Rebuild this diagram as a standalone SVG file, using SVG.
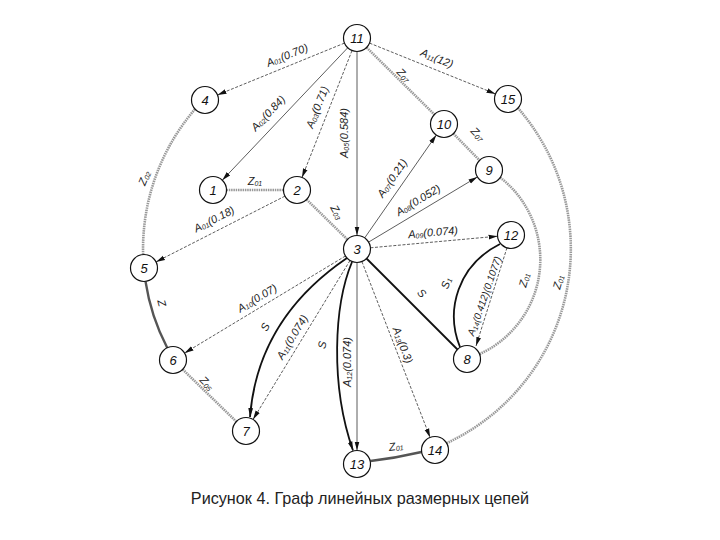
<svg xmlns="http://www.w3.org/2000/svg" width="720" height="540" viewBox="0 0 720 540">
<style>
.nd{fill:#fff;stroke:#111;stroke-width:1.2}
.nt{font-family:"Liberation Sans",Arial,sans-serif;font-style:italic;font-size:13px;fill:#111;text-anchor:middle;dominant-baseline:central}
.lb{font-family:"Liberation Sans",Arial,sans-serif;font-style:italic;font-size:11px;fill:#222;text-anchor:middle;dominant-baseline:central}
.sb{font-size:7px}
.a{fill:none;stroke:#333;stroke-width:0.8}
.ad{fill:none;stroke:#333;stroke-width:0.8;stroke-dasharray:3 1.6}
.z{fill:none;stroke:#999;stroke-width:2.6;stroke-dasharray:1.5 0.8}
.zd{fill:none;stroke:#555;stroke-width:2.4}
.s{fill:none;stroke:#111;stroke-width:1.8}
.cap{font-family:"Liberation Sans",Arial,sans-serif;font-size:16.2px;fill:#222;text-anchor:middle}
</style>
<defs>
<marker id="ar" markerWidth="10" markerHeight="6" refX="9" refY="3" orient="auto" markerUnits="userSpaceOnUse">
<path d="M0,0.6 L9,3 L0,5.4 Z" fill="#111"/>
</marker>
</defs>
<rect width="720" height="540" fill="#fff"/>
<g id="connectors">
<line class="ad" x1="344.5" y1="43.1" x2="217.5" y2="94.9" marker-end="url(#ar)"/>
<line class="a" x1="347.7" y1="47.8" x2="222.3" y2="180.2" marker-end="url(#ar)"/>
<line class="ad" x1="352" y1="50.6" x2="302" y2="177.4" marker-end="url(#ar)"/>
<line class="a" x1="357" y1="51.5" x2="357" y2="235.5" marker-end="url(#ar)"/>
<line class="ad" x1="369.5" y1="43.1" x2="495.5" y2="93.9" marker-end="url(#ar)"/>
<line class="z" x1="366.6" y1="47.5" x2="434.4" y2="114.5"/>
<line class="z" x1="453.4" y1="133.6" x2="479.6" y2="160.4"/>
<line class="a" x1="364.7" y1="237.9" x2="436.3" y2="135.1" marker-end="url(#ar)"/>
<line class="a" x1="368.6" y1="242.1" x2="477.4" y2="176.9" marker-end="url(#ar)"/>
<line class="ad" x1="370.4" y1="247.8" x2="497.6" y2="236.2" marker-end="url(#ar)"/>
<line class="z" x1="226.5" y1="190" x2="283.5" y2="190"/>
<line class="ad" x1="285" y1="196.1" x2="156" y2="261.9" marker-end="url(#ar)"/>
<line class="z" x1="306.6" y1="199.5" x2="347.4" y2="239.5"/>
<path class="z" d="M195,109.2 A214,214 0 0 0 143.1,254.6"/>
<path class="zd" d="M145.5,281.4 A214,214 0 0 0 167.2,347.8"/>
<line class="z" x1="182.7" y1="369.4" x2="236.3" y2="421.6"/>
<path class="z" d="M517.9,108 A214,214 0 0 1 446.7,443.1"/>
<path class="z" d="M500.2,177.5 A104,104 0 0 1 479.6,354.1"/>
<path class="zd" d="M370.5,461 Q396,458 421.5,452"/>
<line class="ad" x1="345.4" y1="256" x2="184.6" y2="353" marker-end="url(#ar)"/>
<path class="s" d="M347,258 C300,290 256,340 250,417" marker-end="url(#ar)"/>
<line class="ad" x1="350" y1="260.5" x2="253" y2="419.5" marker-end="url(#ar)"/>
<path class="s" d="M352,262 C334,305 330,385 353,450.5" marker-end="url(#ar)"/>
<line class="a" x1="357" y1="262.5" x2="357" y2="450.5" marker-end="url(#ar)"/>
<line class="ad" x1="361.9" y1="261.6" x2="430.1" y2="437.4" marker-end="url(#ar)"/>
<line class="s" x1="366.5" y1="258.5" x2="457.5" y2="349.5"/>
<path class="s" d="M460,347 C445,310 458,265 500,244"/>
<line class="ad" x1="507" y1="247.7" x2="476" y2="346" marker-end="url(#ar)"/>
</g>
<g id="labels">
<text class="lb" transform="translate(287,55) rotate(-22)">A<tspan class="sb" dy="2">01</tspan><tspan dy="-2">(0.70)</tspan></text>
<text class="lb" transform="translate(268,113) rotate(-46.5)">A<tspan class="sb" dy="2">02</tspan><tspan dy="-2">(0.84)</tspan></text>
<text class="lb" transform="translate(317,107) rotate(-68.5)">A<tspan class="sb" dy="2">03</tspan><tspan dy="-2">(0.71)</tspan></text>
<text class="lb" transform="translate(344,133) rotate(-90)">A<tspan class="sb" dy="2">05</tspan><tspan dy="-2">(0.584)</tspan></text>
<text class="lb" transform="translate(437,58) rotate(22)">A<tspan class="sb" dy="2">11</tspan><tspan dy="-2">(12)</tspan></text>
<text class="lb" transform="translate(404,75) rotate(45)">Z<tspan class="sb" dy="2">07</tspan></text>
<text class="lb" transform="translate(478,134) rotate(45)">Z<tspan class="sb" dy="2">07</tspan></text>
<text class="lb" transform="translate(392,178) rotate(-55)">A<tspan class="sb" dy="2">07</tspan><tspan dy="-2">(0.21)</tspan></text>
<text class="lb" transform="translate(418,200) rotate(-31)">A<tspan class="sb" dy="2">08</tspan><tspan dy="-2">(0.052)</tspan></text>
<text class="lb" transform="translate(433,232) rotate(-5)">A<tspan class="sb" dy="2">09</tspan><tspan dy="-2">(0.074)</tspan></text>
<text class="lb" transform="translate(255,181)">Z<tspan class="sb" dy="2">01</tspan></text>
<text class="lb" transform="translate(214,219) rotate(-27)">A<tspan class="sb" dy="2">01</tspan><tspan dy="-2">(0.18)</tspan></text>
<text class="lb" transform="translate(337,212) rotate(60)">Z<tspan class="sb" dy="2">03</tspan></text>
<text class="lb" transform="translate(144,178) rotate(-68)">Z<tspan class="sb" dy="2">02</tspan></text>
<text class="lb" transform="translate(162,303) rotate(75)">Z</text>
<text class="lb" transform="translate(207,383) rotate(45)">Z<tspan class="sb" dy="2">05</tspan></text>
<text class="lb" transform="translate(257,298) rotate(-31)">A<tspan class="sb" dy="2">10</tspan><tspan dy="-2">(0.07)</tspan></text>
<text class="lb" transform="translate(265,327) rotate(-62)">S</text>
<text class="lb" transform="translate(292,337) rotate(-58.6)">A<tspan class="sb" dy="2">11</tspan><tspan dy="-2">(0.074)</tspan></text>
<text class="lb" transform="translate(322,345) rotate(-80)">S</text>
<text class="lb" transform="translate(347,362) rotate(-90)">A<tspan class="sb" dy="2">12</tspan><tspan dy="-2">(0.074)</tspan></text>
<text class="lb" transform="translate(403,345) rotate(68.8)">A<tspan class="sb" dy="2">13</tspan><tspan dy="-2">(0.3)</tspan></text>
<text class="lb" transform="translate(422,293) rotate(45)">S</text>
<text class="lb" transform="translate(446,283) rotate(-70)">S<tspan class="sb" dy="2">1</tspan></text>
<text class="lb" style="font-size:10px" transform="translate(484,296) rotate(-71)">A<tspan class="sb" dy="2">14</tspan><tspan dy="-2">(0.412)(0.1077)</tspan></text>
<text class="lb" transform="translate(524,280) rotate(-75)">Z<tspan class="sb" dy="2">01</tspan></text>
<text class="lb" transform="translate(558,282) rotate(-75)">Z<tspan class="sb" dy="2">01</tspan></text>
<text class="lb" transform="translate(396,446) rotate(-8)">Z<tspan class="sb" dy="2">01</tspan></text>
</g>
<g id="n11"><circle class="nd" cx="357" cy="38" r="13.5"/><text class="nt" x="357" y="38">11</text></g>
<g id="n4"><circle class="nd" cx="205" cy="100" r="13.5"/><text class="nt" x="205" y="100">4</text></g>
<g id="n15"><circle class="nd" cx="508" cy="99" r="13.5"/><text class="nt" x="508" y="99">15</text></g>
<g id="n10"><circle class="nd" cx="444" cy="124" r="13.5"/><text class="nt" x="444" y="124">10</text></g>
<g id="n9"><circle class="nd" cx="489" cy="170" r="13.5"/><text class="nt" x="489" y="170">9</text></g>
<g id="n1"><circle class="nd" cx="213" cy="190" r="13.5"/><text class="nt" x="213" y="190">1</text></g>
<g id="n2"><circle class="nd" cx="297" cy="190" r="13.5"/><text class="nt" x="297" y="190">2</text></g>
<g id="n12"><circle class="nd" cx="511" cy="235" r="13.5"/><text class="nt" x="511" y="235">12</text></g>
<g id="n3"><circle class="nd" cx="357" cy="249" r="13.5"/><text class="nt" x="357" y="249">3</text></g>
<g id="n5"><circle class="nd" cx="144" cy="268" r="13.5"/><text class="nt" x="144" y="268">5</text></g>
<g id="n6"><circle class="nd" cx="173" cy="360" r="13.5"/><text class="nt" x="173" y="360">6</text></g>
<g id="n8"><circle class="nd" cx="467" cy="359" r="13.5"/><text class="nt" x="467" y="359">8</text></g>
<g id="n7"><circle class="nd" cx="246" cy="431" r="13.5"/><text class="nt" x="246" y="431">7</text></g>
<g id="n14"><circle class="nd" cx="435" cy="450" r="13.5"/><text class="nt" x="435" y="450">14</text></g>
<g id="n13"><circle class="nd" cx="357" cy="464" r="13.5"/><text class="nt" x="357" y="464">13</text></g>
<text class="cap" x="360" y="504">Рисунок 4. Граф линейных размерных цепей</text>
</svg>
